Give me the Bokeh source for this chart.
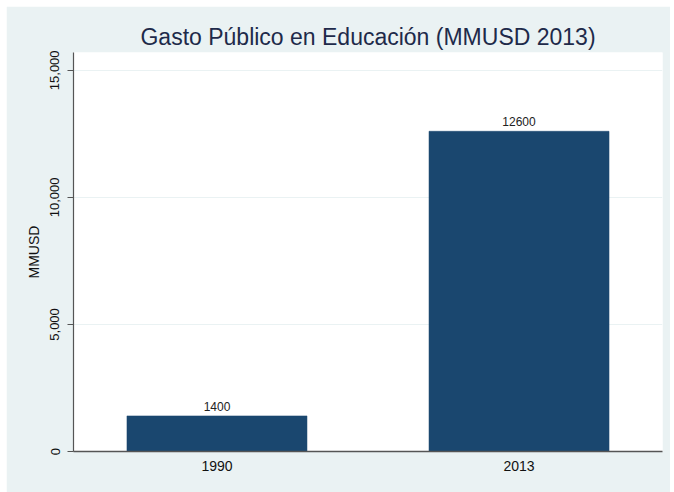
from bokeh.plotting import figure
from bokeh.models import Range1d, FixedTicker, NumeralTickFormatter, ColumnDataSource
from bokeh.embed import file_html
from bokeh.resources import INLINE

# ---- data ----
years = ["1990", "2013"]
gasto = [1400, 12600]
y_ticks = [0, 5000, 10000, 15000]
title_text = "Gasto Público en Educación (MMUSD 2013)"
y_label = "MMUSD"

xpos = [i + 1 for i in range(len(years))]
src = ColumnDataSource(dict(x=xpos, top=gasto, lab=[str(v) for v in gasto]))

FONT = "Liberation Sans"
BG = "#eaf2f3"
NAVY = "#1a476f"

p = figure(frame_width=589, frame_height=399,
           x_range=Range1d(0.525, len(years) + 0.475),
           y_range=Range1d(0, 15700),
           output_backend="svg", toolbar_location=None,
           min_border_left=67, min_border_right=8,
           min_border_top=46, min_border_bottom=41)
p.margin = (6, 0, 0, 6)

p.background_fill_color = "white"
p.border_fill_color = BG
p.outline_line_color = None

# title
p.title.text = title_text
p.title.align = "center"
p.title.text_font = FONT
p.title.text_font_size = "23px"
p.title.text_font_style = "normal"
p.title.text_color = "#1e2a4a"
p.title.standoff = 6

# bars
p.vbar(x="x", top="top", width=0.596, bottom=0, source=src,
       fill_color=NAVY, line_color=NAVY, line_width=0.5)

# bar labels
p.text(x="x", y="top", text="lab", source=src, text_align="center",
       text_baseline="bottom", y_offset=-5, text_font_size="12px",
       text_font={"value": FONT}, text_color="#222222")

# grid
p.xgrid.visible = False
p.ygrid.ticker = FixedTicker(ticks=y_ticks[1:])
p.ygrid.grid_line_color = BG
p.ygrid.grid_line_width = 1.2

# x axis
p.xaxis.ticker = FixedTicker(ticks=xpos)
p.xaxis.major_label_overrides = {x: y for x, y in zip(xpos, years)}
p.xaxis.major_tick_out = 0
p.xaxis.major_tick_in = 0
p.xaxis.minor_tick_out = 0
p.xaxis.minor_tick_in = 0
p.xaxis.major_label_standoff = 9
p.xaxis.major_label_text_font = FONT
p.xaxis.major_label_text_font_size = "14px"
p.xaxis.major_label_text_color = "#111111"
p.xaxis.axis_line_color = "#555555"
p.xaxis.axis_line_width = 1.5

# y axis
p.yaxis.ticker = FixedTicker(ticks=y_ticks)
p.yaxis.formatter = NumeralTickFormatter(format="0,0")
p.yaxis.major_label_orientation = "vertical"
p.yaxis.major_tick_out = 6
p.yaxis.major_tick_in = 0
p.yaxis.minor_tick_out = 0
p.yaxis.minor_tick_in = 0
p.yaxis.major_tick_line_color = "#555555"
p.yaxis.major_label_standoff = 8
p.yaxis.major_label_text_font = FONT
p.yaxis.major_label_text_font_size = "13px"
p.yaxis.major_label_text_color = "#111111"
p.yaxis.axis_line_color = "#555555"
p.yaxis.axis_line_width = 1.2
p.yaxis.axis_label = y_label
p.yaxis.axis_label_text_font = FONT
p.yaxis.axis_label_text_font_size = "14px"
p.yaxis.axis_label_text_font_style = "normal"
p.yaxis.axis_label_text_color = "#111111"
p.yaxis.axis_label_standoff = 6

open("out.html", "w").write(file_html(p, INLINE))
